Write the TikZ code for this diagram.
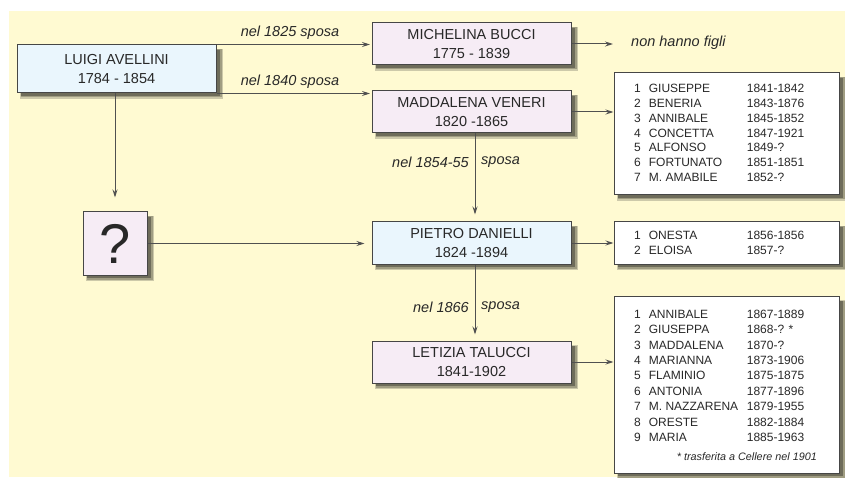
\documentclass[tikz,border=0pt]{standalone}
\usepackage{fontspec}
\setmainfont{Liberation Sans}
\usetikzlibrary{arrows.meta}
\definecolor{bgyel}{RGB}{255,250,210}
\definecolor{bluef}{RGB}{234,246,253}
\definecolor{pinkf}{RGB}{246,236,245}
\definecolor{edgec}{RGB}{70,70,70}
\definecolor{linec}{RGB}{80,80,80}
\definecolor{txt}{RGB}{40,40,40}
\definecolor{shone}{RGB}{205,201,170}
\definecolor{shtwo}{RGB}{160,157,130}
\definecolor{shthree}{RGB}{110,108,90}
\begin{document}
\begin{tikzpicture}[x=1pt,y=-1pt,
  person/.style={draw=edgec, line width=1pt, text=txt, align=center,
    font=\fontsize{14.5}{19}\selectfont, minimum width=199pt, minimum height=42pt,
    inner sep=0pt},
  bluebox/.style={person, fill=bluef},
  pinkbox/.style={person, fill=pinkf},
  kidbox/.style={draw=edgec, line width=1pt, fill=white, minimum width=225pt, inner sep=0pt},
  kidlist/.style={inner sep=0pt, anchor=north west, text=txt},
  lab/.style={inner sep=0pt, text=txt, font=\fontsize{14.5}{17}\selectfont\itshape},
  conn/.style={draw=linec, line width=1pt, -{Stealth[length=8pt,width=5pt]}},
  shbox/.style={draw=none, inner sep=0pt, outer sep=0pt},
]
\useasboundingbox (0,0) rectangle (845,478);
\fill[bgyel] (9,11) rectangle (845,477);

% shadows as filled nodes (outer soft band, then darker core)
\foreach \cx/\cy/\w/\h [count=\i] in {116.5/69/199/48, 471.5/44/199/42, 471.5/112/199/42,
    471.5/243/199/42, 471.5/362/199/42, 115/243.5/64/63,
    726.5/134/225/122, 726.5/243/225/42, 726.5/384.5/225/177} {
  \node[shbox, fill=shone, minimum width=\w pt+4pt, minimum height=\h pt+2pt] (sha\i) at (\cx+5,\cy+5) {};
  \node[shbox, fill=shtwo, minimum width=\w pt+2pt, minimum height=\h pt] (shb\i) at (\cx+4.5,\cy+4.5) {};
  \node[shbox, fill=shthree, minimum width=\w pt, minimum height=\h pt-2pt] (shc\i) at (\cx+4,\cy+4) {};
}

% main persons
\node[bluebox, minimum height=48pt] (luigi) at (116.5,69) {LUIGI AVELLINI\\1784 - 1854};
\node[pinkbox] (mich) at (471.5,44) {MICHELINA BUCCI\\1775 - 1839};
\node[pinkbox] (madd) at (471.5,112) {MADDALENA VENERI\\1820 -1865};
\node[bluebox] (pietro) at (471.5,243) {PIETRO DANIELLI\\1824 -1894};
\node[pinkbox] (letizia) at (471.5,362) {LETIZIA TALUCCI\\1841-1902};
\node[person, fill=pinkf, minimum width=64pt, minimum height=63pt,
  font=\fontsize{56}{60}\selectfont] (q) at (115,243.5) {?};

% children boxes
\node[kidbox, minimum height=122pt] (kids1) at (726.5,134) {};
\node[kidbox, minimum height=42pt] (kids2) at (726.5,243) {};
\node[kidbox, minimum height=177pt] (kids3) at (726.5,384.5) {};

\node[kidlist, font=\fontsize{12}{14.85}\selectfont] (list1) at (634,82) {%
\begin{tabular}{@{}r@{\hspace{8pt}}p{98pt}@{}l@{}}
1 & GIUSEPPE & 1841-1842\\
2 & BENERIA & 1843-1876\\
3 & ANNIBALE & 1845-1852\\
4 & CONCETTA & 1847-1921\\
5 & ALFONSO & 1849-?\\
6 & FORTUNATO & 1851-1851\\
7 & M. AMABILE & 1852-?
\end{tabular}};

\node[kidlist, font=\fontsize{12}{15}\selectfont] (list2) at (634,228.8) {%
\begin{tabular}{@{}r@{\hspace{8pt}}p{98pt}@{}l@{}}
1 & ONESTA & 1856-1856\\
2 & ELOISA & 1857-?
\end{tabular}};

\node[kidlist, font=\fontsize{12}{15.4}\selectfont] (list3) at (634,307.3) {%
\begin{tabular}{@{}r@{\hspace{8pt}}p{98pt}@{}l@{}}
1 & ANNIBALE & 1867-1889\\
2 & GIUSEPPA & 1868-? *\\
3 & MADDALENA & 1870-?\\
4 & MARIANNA & 1873-1906\\
5 & FLAMINIO & 1875-1875\\
6 & ANTONIA & 1877-1896\\
7 & M. NAZZARENA & 1879-1955\\
8 & ORESTE & 1882-1884\\
9 & MARIA & 1885-1963
\end{tabular}};
\node[inner sep=0pt, anchor=base east, text=txt, font=\fontsize{10.8}{13}\selectfont\itshape] (note3) at (817,460) {* trasferita a Cellere nel 1901};

% connectors
\draw[conn, shorten >=1.5pt] (luigi.north east) -- (luigi.north east -| mich.west);
\draw[conn, shorten >=1.5pt] (luigi.south east) -- (luigi.south east -| madd.west);
\draw[conn, shorten >=14pt] (q.north |- luigi.south) -- (q.north);
\draw[conn, shorten >=7pt] (q.east) -- (q.east -| pietro.west);
\coordinate (vx) at (475,0);
\draw[conn, shorten >=7pt] (vx |- madd.south) -- (vx |- pietro.north);
\draw[conn, shorten >=6pt] (vx |- pietro.south) -- (vx |- letizia.north);
\coordinate (nhf) at (613,44);
\draw[conn] (mich.east) -- (nhf);
\draw[conn] (madd.east) -- (madd.east -| kids1.west);
\draw[conn] (pietro.east) -- (pietro.east -| kids2.west);
\draw[conn] (letizia.east) -- (letizia.east -| kids3.west);

% labels
\node[lab] (l1825) at (290,33) {nel 1825 sposa};
\node[lab] (l1840) at (290,82) {nel 1840 sposa};
\node[lab, anchor=west] (nofigli) at (631,43) {non hanno figli};
\node[lab, anchor=east] (l1854) at (469,162) {nel 1854-55};
\node[lab, anchor=west] (s1854) at (481,162) {sposa};
\node[lab, anchor=east] (l1866) at (469,307) {nel 1866};
\node[lab, anchor=west] (s1866) at (481,307) {sposa};
\end{tikzpicture}
\end{document}
